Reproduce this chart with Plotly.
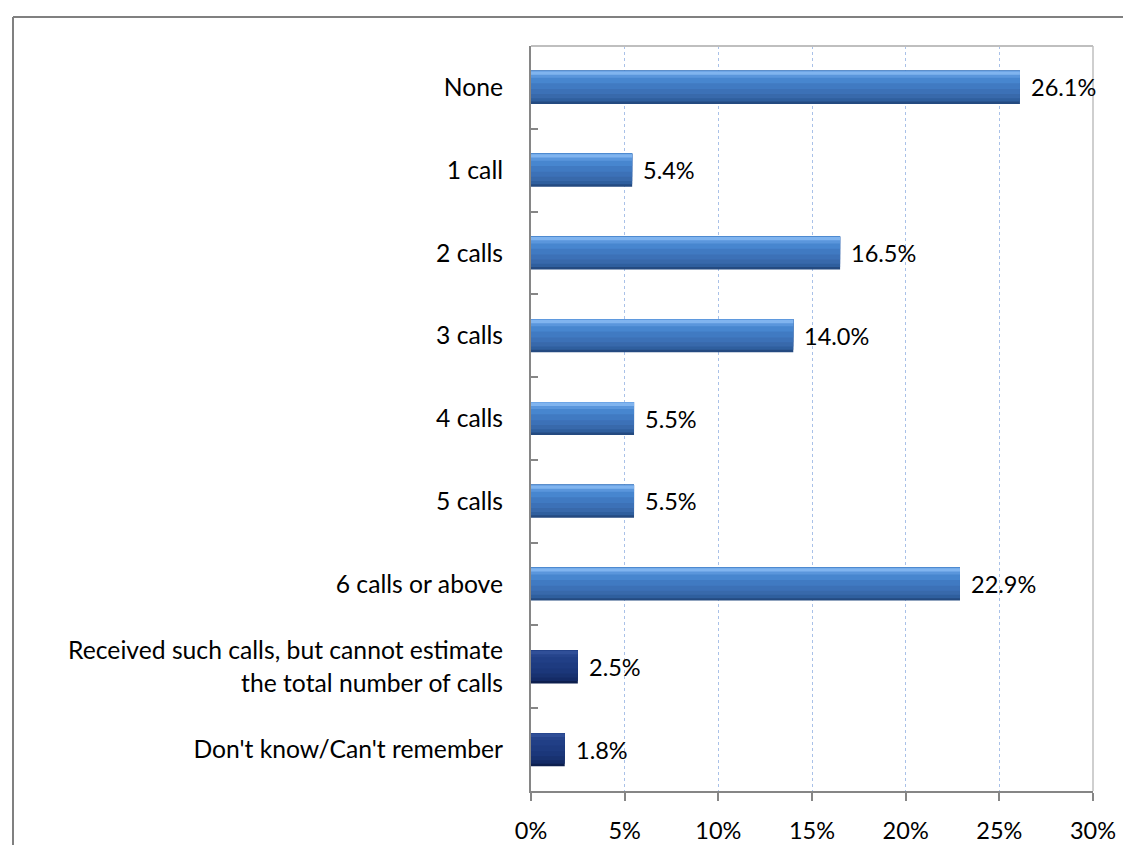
import plotly.graph_objects as go

categories = [
    "None",
    "1 call",
    "2 calls",
    "3 calls",
    "4 calls",
    "5 calls",
    "6 calls or above",
    "Received such calls, but cannot estimate<br>the total number of calls",
    "Don't know/Can't remember",
]
values = [26.1, 5.4, 16.5, 14.0, 5.5, 5.5, 22.9, 2.5, 1.8]
is_dark = [False, False, False, False, False, False, False, True, True]

x_vals = [v / 100 for v in values]
labels = [f"{v:.1f}%" for v in values]

FONT = "Lato, 'Open Sans', 'DejaVu Sans', sans-serif"

# stripe layers (top-anchored, drawn from widest to narrowest): width, offset, light colour, dark colour
layers = [
    (0.400, -0.200, "#244a80", "#0d1f4e"),
    (0.370, -0.200, "#2f5f9e", "#142b66"),
    (0.330, -0.200, "#3869ab", "#183270"),
    (0.280, -0.200, "#3c71b7", "#1b377a"),
    (0.220, -0.200, "#407ac2", "#1e3b80"),
    (0.150, -0.200, "#4786cf", "#213f86"),
    (0.085, -0.200, "#5a96dc", "#26448c"),
    (0.040, -0.192, "#80b4ef", "#304f98"),
]

fig = go.Figure()
for w, off, c_light, c_dark in layers:
    fig.add_trace(go.Bar(
        y=categories,
        x=x_vals,
        orientation="h",
        width=w,
        offset=off,
        marker=dict(color=[c_dark if d else c_light for d in is_dark], line=dict(width=0)),
        hoverinfo="skip",
        showlegend=False,
    ))

annotations = []
for cat, xv, lab in zip(categories, x_vals, labels):
    annotations.append(dict(
        x=xv, y=cat, xref="x", yref="y", text=lab, showarrow=False,
        xanchor="left", yanchor="middle", xshift=9,
        font=dict(family=FONT, size=23.5, color="#000000"),
    ))

shapes = [
    # outer chart border (left and top)
    dict(type="line", xref="paper", yref="paper", x0=-0.9217, x1=1.2, y0=1.0389, y1=1.0389,
         line=dict(color="#808080", width=2)),
    dict(type="line", xref="paper", yref="paper", x0=-0.9217, x1=-0.9217, y0=1.0389, y1=-0.2,
         line=dict(color="#808080", width=2)),
    # plot area top/right border
    dict(type="line", xref="paper", yref="paper", x0=0, x1=1, y0=1, y1=1,
         line=dict(color="#bfbfbf", width=2)),
    dict(type="line", xref="paper", yref="paper", x0=1, x1=1, y0=0, y1=1,
         line=dict(color="#bfbfbf", width=1.5), layer="below"),
]

fig.update_layout(
    width=1123, height=845,
    margin=dict(l=531, r=30, t=46, b=54, autoexpand=False),
    paper_bgcolor="white", plot_bgcolor="white",
    barmode="overlay",
    font=dict(family=FONT, size=23.5, color="#000000"),
    annotations=annotations,
    shapes=shapes,
    xaxis=dict(
        range=[0, 0.30], dtick=0.05, tick0=0, tickformat=".0%",
        showgrid=True, gridcolor="#a9c1e8", griddash="dot", gridwidth=1,
        showline=True, linecolor="#868686", linewidth=2,
        ticks="outside", ticklen=8, tickcolor="#868686", tickwidth=2,
        ticklabelstandoff=10, zeroline=False, fixedrange=True,
        tickfont=dict(family=FONT, size=23.5, color="#000000"),
    ),
    yaxis=dict(
        type="category", autorange="reversed",
        showline=True, linecolor="#868686", linewidth=2,
        ticks="inside", ticklen=7, tickcolor="#868686", tickwidth=2,
        tickson="boundaries", ticklabelstandoff=21, showgrid=False,
        fixedrange=True,
        tickfont=dict(family=FONT, size=24.7, color="#000000"),
    ),
)

fig.write_html("out.html")
